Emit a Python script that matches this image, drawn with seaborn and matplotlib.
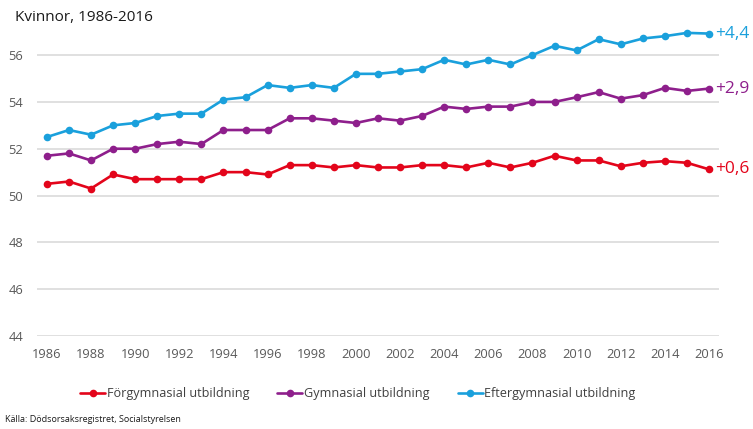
import matplotlib
matplotlib.use("Agg")
import matplotlib.pyplot as plt
import seaborn as sns
import pandas as pd

years = list(range(1986, 2017))

forgymnasial = [50.5, 50.6, 50.3, 50.9, 50.7, 50.7, 50.7, 50.7, 51.0, 51.0,
                50.9, 51.3, 51.3, 51.2, 51.3, 51.2, 51.2, 51.3, 51.3, 51.2,
                51.4, 51.2, 51.4, 51.7, 51.5, 51.5, 51.25, 51.4, 51.47, 51.4, 51.12]

gymnasial = [51.7, 51.8, 51.5, 52.0, 52.0, 52.2, 52.3, 52.2, 52.8, 52.8,
             52.8, 53.3, 53.3, 53.2, 53.1, 53.3, 53.2, 53.4, 53.8, 53.7,
             53.8, 53.8, 54.0, 54.0, 54.2, 54.42, 54.14, 54.29, 54.6, 54.47, 54.57]

eftergymnasial = [52.5, 52.8, 52.6, 53.0, 53.1, 53.4, 53.5, 53.5, 54.1, 54.2,
                  54.72, 54.6, 54.72, 54.6, 55.2, 55.2, 55.3, 55.4, 55.8, 55.6,
                  55.8, 55.6, 56.0, 56.4, 56.2, 56.68, 56.46, 56.71, 56.81, 56.95, 56.92]

series_names = ["Förgymnasial utbildning", "Gymnasial utbildning", "Eftergymnasial utbildning"]
end_labels = ["+0,6", "+2,9", "+4,4"]
colors = ["#E3051B", "#8E1F8C", "#1AA0DC"]
y_ticks = [44, 46, 48, 50, 52, 54, 56]
x_ticks = list(range(1986, 2017, 2))
title = "Kvinnor, 1986-2016"
source = "Källa: Dödsorsaksregistret, Socialstyrelsen"

sns.set_theme(style="white")
plt.rcParams["font.family"] = ["Open Sans", "DejaVu Sans"]

df = pd.DataFrame({
    "year": years * 3,
    "value": forgymnasial + gymnasial + eftergymnasial,
    "series": [series_names[0]] * len(years) + [series_names[1]] * len(years) + [series_names[2]] * len(years),
})

fig = plt.figure(figsize=(7.53, 4.29), dpi=100)
ax = fig.add_axes([0.0491, 0.2168, 0.9057, 0.7202])

for name, col in zip(series_names, colors):
    sub = df[df["series"] == name]
    sns.lineplot(data=sub, x="year", y="value", color=col, marker="o",
                 markersize=5.5, markeredgewidth=0, linewidth=1.9,
                 label=name, ax=ax)

ax.set_xlim(1985.55, 2016.45)
ax.set_ylim(44, 57.2)
ax.set_yticks(y_ticks)
ax.set_xticks(x_ticks)
ax.set_xticklabels([str(x) for x in x_ticks])
ax.set_yticklabels([str(y) for y in y_ticks])
ax.tick_params(axis="both", length=0, labelsize=9.3, labelcolor="#595959")
ax.tick_params(axis="x", pad=9)
ax.tick_params(axis="y", pad=10)
ax.set_xlabel("")
ax.set_ylabel("")
ax.yaxis.grid(True, color="#DADADA", linewidth=1.2)
ax.xaxis.grid(False)
for s in ax.spines.values():
    s.set_visible(False)

for vals, lab, col in zip([forgymnasial, gymnasial, eftergymnasial], end_labels, colors):
    ax.annotate(lab, xy=(years[-1], vals[-1]), xytext=(4.5, 0), textcoords="offset points",
                ha="left", va="center", color=col, fontsize=12.5, annotation_clip=False)

handles, labels = ax.get_legend_handles_labels()
ax.get_legend().remove()
fig.legend(handles, labels, loc="center", bbox_to_anchor=(0.475, 0.082), ncol=3,
           frameon=False, fontsize=9.05, handlelength=2.0, handletextpad=0.1,
           columnspacing=2.25, labelcolor="#404040")

fig.text(0.02, 0.96, title, fontsize=11, color="#1a1a1a", ha="left", va="center")
fig.text(0.007, 0.012, source, fontsize=6.5, color="#1a1a1a", ha="left", va="bottom")

fig.savefig("out.png", dpi=100)
